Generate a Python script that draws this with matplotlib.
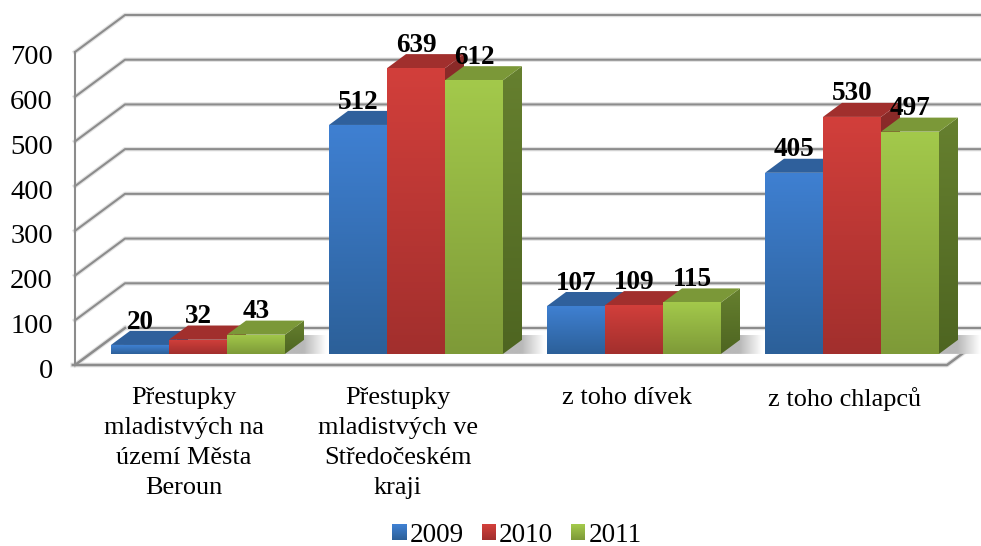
# coding: utf-8
"""Fake-3D clustered bars (Excel style): juvenile offences 2009-2011."""
import numpy as np
import matplotlib
matplotlib.use("Agg")
import matplotlib.pyplot as plt
from matplotlib.colors import to_rgb
from matplotlib.legend_handler import HandlerBase
from matplotlib.patches import Patch, Polygon, Rectangle
from matplotlib.transforms import ScaledTranslation

plt.rcParams["font.family"] = ["Liberation Serif", "DejaVu Serif"]

categories = [
    "Přestupky\nmladistvých na\núzemí Města\nBeroun",
    "Přestupky\nmladistvých ve\nStředočeském\nkraji",
    "z toho dívek",
    "z toho chlapců",
]
years = ["2009", "2010", "2011"]
values_2009 = [20, 512, 107, 405]
values_2010 = [32, 639, 109, 530]
values_2011 = [43, 612, 115, 497]
y_ticks = [0, 100, 200, 300, 400, 500, 600, 700]

# colours: front top, front bottom, side top, side bottom, top face
BLUE  = ("#3f80d2", "#2c6099", "#2b5f9c", "#234d80", "#2f609c")
RED   = ("#d23f3b", "#a22f2d", "#8c2b29", "#702220", "#a12f2d")
GREEN = ("#a3c94b", "#7e9a38", "#66802f", "#4e6521", "#7b9838")
GRID = "#8c8c8c"
HALO = "#e2e2e2"

# px layout of the picture
W, H = 981, 546
X0, X1, Y0, Y700 = 75, 981, 365, 52
PX_PER_CAT = 218.0
PX_PER_VAL = (Y0 - Y700) / 700.0
DEPTH_X = 50 / PX_PER_CAT      # full floor depth, data units
DEPTH_Y = 37 / PX_PER_VAL
BAR_D0, BAR_D1 = 0.30, 0.68    # bars sit inside the floor depth
BAR_W = 58 / PX_PER_CAT
BAR_SHIFT = -1 / PX_PER_CAT

fig = plt.figure(figsize=(W / 100, H / 100), dpi=100)
ax = fig.add_axes([X0 / W, 1 - Y0 / H, (X1 - X0) / W, (Y0 - Y700) / H])
xlim = (0, (X1 - X0) / PX_PER_CAT)


def proj(x, v, d):
    return x + DEPTH_X * d, v + DEPTH_Y * d


def gradient(verts, stops, zorder, horizontal=False, at=None):
    """Fill a polygon with a linear gradient between the given colours."""
    xs, ys = zip(*verts)
    pos = np.linspace(0, 1, 128)
    rgb = np.array([to_rgb(c) for c in stops])
    grid = np.linspace(0, 1, len(stops)) if at is None else at
    ramp = np.stack([np.interp(pos, grid, rgb[:, k]) for k in range(3)], axis=1)
    img = ramp[None, :, :] if horizontal else ramp[:, None, :]
    im = ax.imshow(img, extent=[min(xs), max(xs), min(ys), max(ys)], origin="upper",
                   aspect="auto", interpolation="bilinear", zorder=zorder)
    clip = Polygon(verts, closed=True, transform=ax.transData, fill=False, edgecolor="none")
    ax.add_patch(clip)
    im.set_clip_path(clip)


# walls and floor
for v in y_ticks:
    bx, by = proj(0, v, 1)
    for c, lw in ((HALO, 3.2), (GRID, 1.5)):
        if v == 0:
            ax.plot([bx, xlim[1] + 0.2], [by, by], color=c, lw=lw, zorder=1, clip_on=False)
        else:
            ax.plot([0, bx, xlim[1] + 0.2], [v, by, by], color=c, lw=lw, zorder=1, clip_on=False)
# floor edges
fx, fy = proj(4, 0, 1)
bx0, by0 = proj(0, 0, 1)
for c, lw in ((HALO, 3.4), (GRID, 1.8)):
    ax.plot([0, bx0], [0, by0], color=c, lw=lw, zorder=1, clip_on=False)
    ax.plot([-0.01, 4, fx], [0, 0, fy], color=c, lw=lw, zorder=1, clip_on=False)

# soft shadow on the floor behind each group, fading out right of the bars
for i in range(len(categories)):
    left = i + 0.5 - 1.5 * BAR_W + BAR_SHIFT
    right = i + 0.5 + 1.5 * BAR_W + BAR_SHIFT
    fade = right + 0.30
    verts = [proj(left, 0, BAR_D0), proj(fade, 0, BAR_D0), proj(fade, 0, 0.81), proj(left, 0, 0.81)]
    xs = [p[0] for p in verts]
    span = max(xs) - min(xs)
    start = (proj(right, 0, BAR_D1)[0] - min(xs)) / span
    end = (proj(right + 0.105, 0, BAR_D1)[0] - min(xs)) / span
    gradient(verts, ["#b8b8b8", "#b8b8b8", "#ffffff", "#ffffff"], 2, horizontal=True,
             at=[0, start, end, 1])

# bars, left to right inside a group so neighbours overlap properly
series = [values_2009, values_2010, values_2011]
styles = [BLUE, RED, GREEN]
for i in range(len(categories)):
    for j, (vals, st) in enumerate(zip(series, styles)):
        v = vals[i]
        x0 = i + 0.5 + (j - 1.5) * BAR_W + BAR_SHIFT
        x1 = x0 + BAR_W
        z = 3 + j * 3
        side = [proj(x1, 0, BAR_D0), proj(x1, 0, BAR_D1), proj(x1, v, BAR_D1), proj(x1, v, BAR_D0)]
        gradient(side, [st[2], st[3]], z)
        top = [proj(x0, v, BAR_D0), proj(x1, v, BAR_D0), proj(x1, v, BAR_D1), proj(x0, v, BAR_D1)]
        ax.add_patch(Polygon(top, closed=True, facecolor=st[4], edgecolor="none", zorder=z + 1))
        front = [proj(x0, 0, BAR_D0), proj(x1, 0, BAR_D0), proj(x1, v, BAR_D0), proj(x0, v, BAR_D0)]
        gradient(front, [st[0], st[1]], z + 2)

# value labels on top of everything
for i in range(len(categories)):
    for j, vals in enumerate(series):
        v = vals[i]
        cx, cy = proj(i + 0.5 + (j - 1) * BAR_W + BAR_SHIFT, v, BAR_D0)
        ax.annotate(str(v), (cx, cy), xytext=(0, 16.5), textcoords="offset points",
                    ha="center", va="center", fontsize=19.5, fontweight="bold",
                    color="black", zorder=30, annotation_clip=False)

ax.set_xlim(*xlim)
ax.set_ylim(0, 700)
ax.patch.set_visible(False)
for name in ("top", "right", "bottom"):
    ax.spines[name].set_visible(False)
ax.spines["left"].set_color(GRID)
ax.spines["left"].set_linewidth(1.5)

ax.set_yticks(y_ticks)
ax.tick_params(axis="y", length=0, pad=16, labelsize=20.5)
nudge = ScaledTranslation(0, -3 / 100, fig.dpi_scale_trans)
for lab in ax.get_yticklabels():
    lab.set_transform(lab.get_transform() + nudge)
ax.set_xticks([0.5, 1.48, 2.53, 3.53])
ax.set_xticklabels(categories, linespacing=1.48)
ax.tick_params(axis="x", length=0, pad=15.5, labelsize=18.9)


class GradientSwatch(HandlerBase):
    def create_artists(self, legend, orig, xd, yd, width, height, fontsize, trans):
        top, bottom = to_rgb(orig.get_facecolor()), to_rgb(orig.get_edgecolor())
        n = 16
        out = []
        for k in range(n):
            t = k / (n - 1)
            col = tuple(a + (b - a) * t for a, b in zip(top, bottom))
            out.append(Rectangle((-xd, -yd + height * (1 - (k + 1) / n)), width, height / n + 0.2,
                                 facecolor=col, edgecolor="none", transform=trans))
        return out


handles = [Patch(facecolor=st[0], edgecolor=st[1], label=y) for st, y in zip(styles, years)]
fig.legend(handles=handles, loc="center", bbox_to_anchor=(517 / W, 1 - 535 / H), ncol=3,
           frameon=False, fontsize=19.5, handlelength=0.52, handleheight=0.52,
           handletextpad=0.12, columnspacing=0.66, borderpad=0,
           handler_map={Patch: GradientSwatch()})

fig.savefig("out.png", dpi=100)
